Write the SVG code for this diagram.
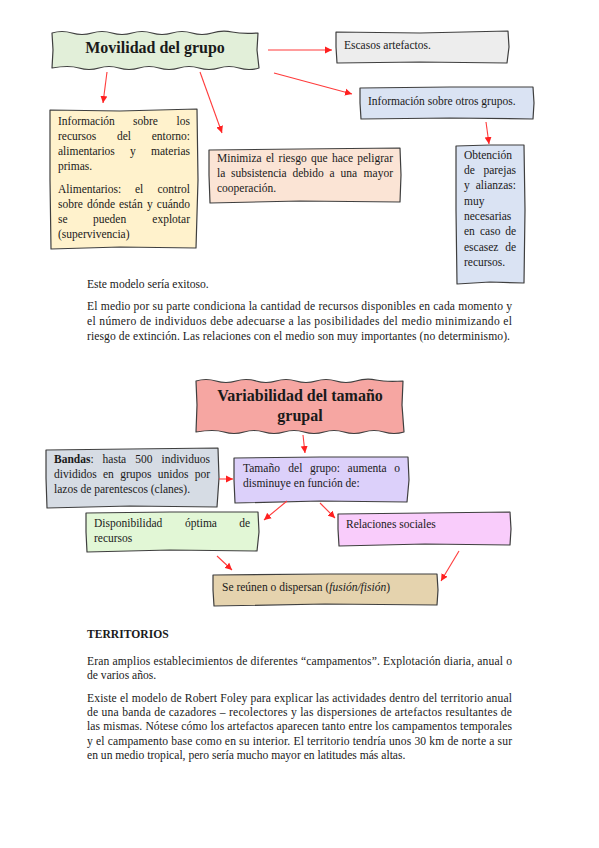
<svg xmlns="http://www.w3.org/2000/svg" width="599" height="848" viewBox="0 0 599 848">
<style>
.box{stroke:#3f3f3f;stroke-width:1.2;stroke-linejoin:round}
.t{font-family:"Liberation Serif","Times New Roman",serif;font-size:11.5px;fill:#1a1a1a}
.p{font-family:"Liberation Serif","Times New Roman",serif;font-size:11.6px;fill:#1a1a1a}
.h{font-family:"Liberation Serif","Times New Roman",serif;font-size:16px;font-weight:bold;fill:#1a1a1a}
.e{text-anchor:end}
.b{font-weight:bold}
.i{font-style:italic}
.c line{stroke:#ff3b3b;stroke-width:1.1;marker-end:url(#ah)}
</style>
<defs>
<marker id="ah" markerWidth="8" markerHeight="8" refX="7" refY="4" orient="auto" markerUnits="userSpaceOnUse"><path d="M0,0.5 L7,4 L0,7.5 Z" fill="#ff2020"/></marker>
</defs>
<rect width="599" height="848" fill="#ffffff"/>

<g id="movilidad">
<path class="box" fill="#e2efd9" d="M52,33 Q62,30 72,33 T92,33 T112,33 T132,33 T152,33 T172,33 T192,33 T212,33 T232,32 T258,33 L257,50 L259,68 Q249,71 239,68 T219,68 T199,68 T179,68 T159,68 T139,68 T119,68 T99,68 T79,68 T52,68 L53,50 Z"/>
<text class="h" x="155" y="53" text-anchor="middle">Movilidad del grupo</text>
</g>

<g id="escasos">
<path class="box" fill="#ededed" d="M336,32 L420,33 L508,31 L509,47 L507,63 L420,62 L337,63 L336,47 Z"/>
<text class="t" x="344" y="49">Escasos artefactos.</text>
</g>

<g id="info-otros">
<path class="box" fill="#dae3f3" d="M360,88 L450,87 L533,87 L534,103 L533,119 L450,118 L361,119 L360,103 Z"/>
<text class="t" x="368" y="105">Información sobre otros grupos.</text>
</g>

<g id="info-recursos">
<path class="box" fill="#fff2cc" d="M50,110 L120,111 L197,109 L198,180 L196,248 L120,247 L51,249 L50,180 Z"/>
<text class="t" y="125"><tspan x="58">Información</tspan><tspan x="133">sobre</tspan></text>
<text class="t e" x="190" y="125">los</text>
<text class="t" y="140"><tspan x="58">recursos</tspan><tspan x="117">del</tspan></text>
<text class="t e" x="190" y="140">entorno:</text>
<text class="t" y="155"><tspan x="58">alimentarios</tspan><tspan x="130">y</tspan></text>
<text class="t e" x="190" y="155">materias</text>
<text class="t" x="58" y="170">primas.</text>
<text class="t" y="193"><tspan x="58">Alimentarios:</tspan><tspan x="135">el</tspan></text>
<text class="t e" x="190" y="193">control</text>
<text class="t" y="208"><tspan x="58">sobre</tspan><tspan x="87">dónde</tspan><tspan x="119">están</tspan><tspan x="147">y</tspan></text>
<text class="t e" x="190" y="208">cuándo</text>
<text class="t" y="223"><tspan x="58">se</tspan><tspan x="93">pueden</tspan></text>
<text class="t e" x="190" y="223">explotar</text>
<text class="t" x="58" y="238">(supervivencia)</text>
</g>

<g id="minimiza">
<path class="box" fill="#fbe4d5" d="M209,150 L300,149 L400,148 L401,175 L400,202 L300,201 L210,203 L209,175 Z"/>
<text class="t" y="162"><tspan x="217">Minimiza</tspan><tspan x="266">el</tspan><tspan x="278.6">riesgo</tspan><tspan x="311">que</tspan><tspan x="332">hace</tspan></text>
<text class="t e" x="393" y="162">peligrar</text>
<text class="t" y="177"><tspan x="217">la</tspan><tspan x="231">subsistencia</tspan><tspan x="292.4">debido</tspan><tspan x="329.6">a</tspan><tspan x="340.6">una</tspan></text>
<text class="t e" x="393" y="177">mayor</text>
<text class="t" x="217" y="192">cooperación.</text>
</g>

<g id="obtencion">
<path class="box" fill="#dae3f3" d="M456,146 L490,145 L524,145 L525,210 L524,283 L490,282 L457,284 L456,210 Z"/>
<text class="t" x="464" y="159">Obtención</text>
<text class="t" x="464" y="174">de</text><text class="t e" x="516" y="174">parejas</text>
<text class="t" x="464" y="189">y</text><text class="t e" x="516" y="189">alianzas:</text>
<text class="t" x="464" y="205">muy</text>
<text class="t" x="464" y="220">necesarias</text>
<text class="t" y="235"><tspan x="464">en</tspan><tspan x="480">caso</tspan></text><text class="t e" x="516" y="235">de</text>
<text class="t" x="464" y="251">escasez</text><text class="t e" x="516" y="251">de</text>
<text class="t" x="464" y="266">recursos.</text>
</g>

<g id="texto-1">
<text class="p" x="87" y="288">Este modelo sería exitoso.</text>
<text class="p" x="87" y="310" textLength="425" lengthAdjust="spacing">El medio por su parte condiciona la cantidad de recursos disponibles en cada momento y</text>
<text class="p" x="87" y="325" textLength="425" lengthAdjust="spacing">el número de individuos debe adecuarse a las posibilidades del medio minimizando el</text>
<text class="p" x="87" y="340" textLength="423" lengthAdjust="spacing">riesgo de extinción. Las relaciones con el medio son muy importantes (no determinismo).</text>
</g>

<g id="variabilidad">
<path class="box" fill="#f6a6a2" d="M196,381 Q206,378 216,381 T236,381 T256,381 T276,381 T296,381 T316,381 T336,381 T356,381 T376,380 T403,381 L402,405 L404,432 Q394,435 384,432 T364,432 T344,432 T324,432 T304,432 T284,432 T264,432 T244,432 T224,432 T196,432 L197,405 Z"/>
<text class="h" x="300" y="401" text-anchor="middle">Variabilidad del tamaño</text>
<text class="h" x="300" y="421" text-anchor="middle">grupal</text>
</g>

<g id="bandas">
<path class="box" fill="#d6dce4" d="M46,450 L130,449 L218,448 L219,478 L217,507 L130,506 L47,508 L46,478 Z"/>
<text class="t" y="463"><tspan x="54" class="b">Bandas</tspan>:<tspan x="102.6">hasta</tspan><tspan x="135.2">500</tspan></text>
<text class="t e" x="210" y="463">individuos</text>
<text class="t" y="478"><tspan x="54">divididos</tspan><tspan x="103">en</tspan><tspan x="120.2">grupos</tspan><tspan x="157.8">unidos</tspan></text>
<text class="t e" x="210" y="478">por</text>
<text class="t" x="54" y="493">lazos de parentescos (clanes).</text>
</g>

<g id="tamano">
<path class="box" fill="#dcd0fa" d="M234,458 L320,457 L408,457 L409,480 L407,502 L320,501 L235,503 L234,480 Z"/>
<text class="t" y="472"><tspan x="243">Tamaño</tspan><tspan x="288.3">del</tspan><tspan x="310">grupo:</tspan><tspan x="347.6">aumenta</tspan></text>
<text class="t e" x="400" y="472">o</text>
<text class="t" x="243" y="487">disminuye en función de:</text>
</g>

<g id="disponibilidad">
<path class="box" fill="#e2f7d6" d="M86,513 L170,512 L258,512 L259,532 L257,551 L170,550 L87,552 L86,532 Z"/>
<text class="t" y="527"><tspan x="94">Disponibilidad</tspan><tspan x="185">óptima</tspan></text>
<text class="t e" x="250" y="527">de</text>
<text class="t" x="94" y="542">recursos</text>
</g>

<g id="relaciones">
<path class="box" fill="#f9ccfb" d="M338,514 L425,513 L510,512 L511,529 L510,545 L425,544 L339,546 L338,529 Z"/>
<text class="t" x="346" y="528">Relaciones sociales</text>
</g>

<g id="reunen">
<path class="box" fill="#e5d3ae" d="M213,575 L325,574 L437,574 L438,590 L437,605 L325,604 L214,606 L213,590 Z"/>
<text class="t" x="222" y="591">Se reúnen o dispersan (<tspan class="i">fusión/fisión</tspan>)</text>
</g>

<g id="texto-2">
<text class="p b" x="87" y="638">TERRITORIOS</text>
<text class="p" x="87" y="665" textLength="425" lengthAdjust="spacing">Eran amplios establecimientos de diferentes “campamentos”. Explotación diaria, anual o</text>
<text class="p" x="87" y="679">de varios años.</text>
<text class="p" x="87" y="702" textLength="425" lengthAdjust="spacing">Existe el modelo de Robert Foley para explicar las actividades dentro del territorio anual</text>
<text class="p" x="87" y="716" textLength="425" lengthAdjust="spacing">de una banda de cazadores – recolectores y las dispersiones de artefactos resultantes de</text>
<text class="p" x="87" y="730" textLength="425" lengthAdjust="spacing">las mismas. Nótese cómo los artefactos aparecen tanto entre los campamentos temporales</text>
<text class="p" x="87" y="745" textLength="425" lengthAdjust="spacing">y el campamento base como en su interior. El territorio tendría unos 30 km de norte a sur</text>
<text class="p" x="87" y="759">en un medio tropical, pero sería mucho mayor en latitudes más altas.</text>
</g>

<g id="connectors" class="c">
<line x1="268" y1="50" x2="332" y2="50"/>
<line x1="274" y1="73" x2="352" y2="94"/>
<line x1="107" y1="72" x2="103" y2="103"/>
<line x1="200" y1="72" x2="222" y2="133"/>
<line x1="486" y1="122" x2="489" y2="144"/>
<line x1="303" y1="435" x2="305" y2="453"/>
<line x1="219" y1="479" x2="233" y2="479"/>
<line x1="287" y1="501" x2="264" y2="520"/>
<line x1="320" y1="503" x2="335" y2="518"/>
<line x1="217" y1="556" x2="232" y2="570"/>
<line x1="459" y1="551" x2="441" y2="581"/>
</g>
</svg>
